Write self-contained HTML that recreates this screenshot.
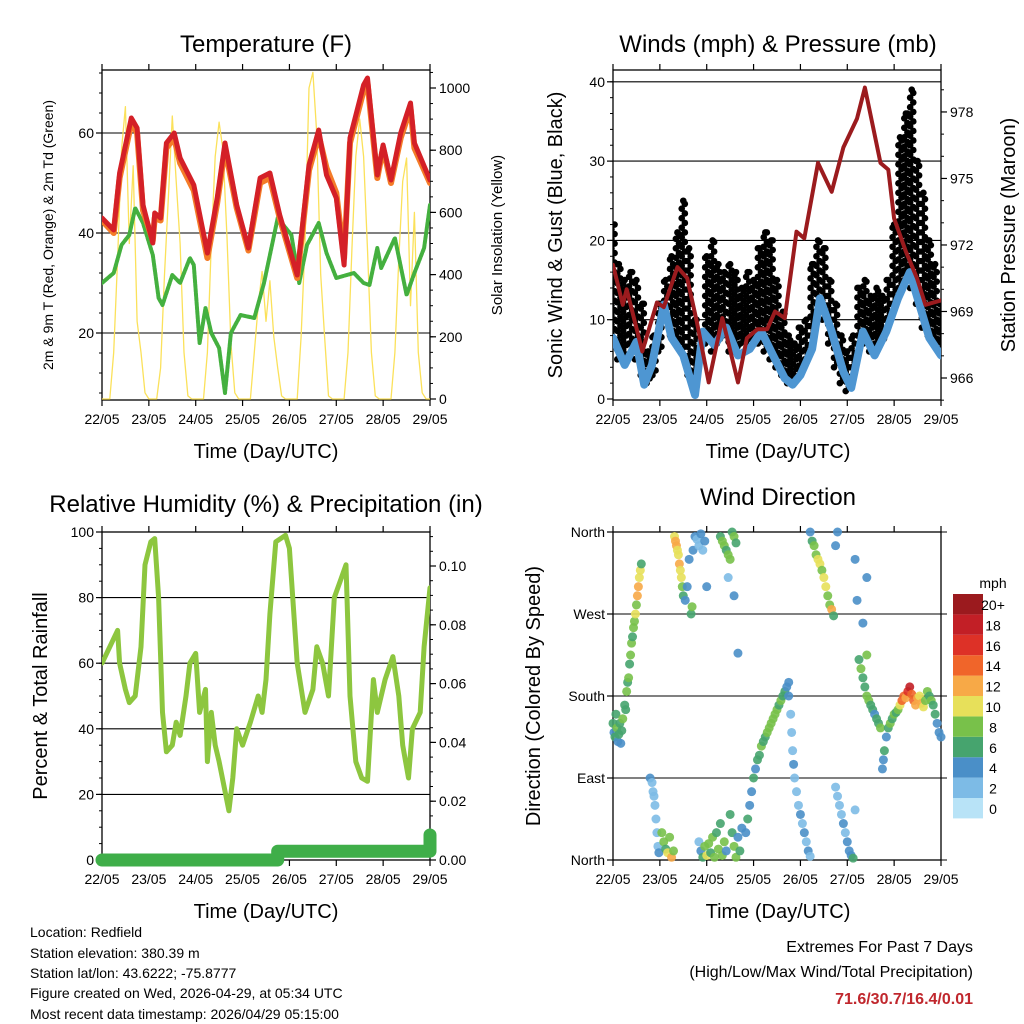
<!DOCTYPE html>
<html><head><meta charset="utf-8"><style>
html,body{margin:0;padding:0;background:#fff;}
svg{display:block;font-family:"Liberation Sans",sans-serif;}
</style></head><body>
<svg id="chart" width="1024" height="1024" viewBox="0 0 1024 1024" xmlns="http://www.w3.org/2000/svg">
<rect width="1024" height="1024" fill="#fff"/>
<text x="266" y="52" font-size="24" text-anchor="middle">Temperature (F)</text>
<text x="778" y="52" font-size="24" text-anchor="middle">Winds (mph) &amp; Pressure (mb)</text>
<text x="266" y="512" font-size="24" text-anchor="middle">Relative Humidity (%) &amp; Precipitation (in)</text>
<text x="778" y="505" font-size="24" text-anchor="middle">Wind Direction</text>
<text x="266" y="458" font-size="20" text-anchor="middle">Time (Day/UTC)</text>
<text x="778" y="458" font-size="20" text-anchor="middle">Time (Day/UTC)</text>
<text x="266" y="918" font-size="20" text-anchor="middle">Time (Day/UTC)</text>
<text x="778" y="918" font-size="20" text-anchor="middle">Time (Day/UTC)</text>
<text transform="translate(53,235) rotate(-90)" font-size="14" text-anchor="middle">2m &amp; 9m T (Red, Orange) &amp; 2m Td (Green)</text>
<text transform="translate(502,235) rotate(-90)" font-size="15" text-anchor="middle">Solar Insolation (Yellow)</text>
<text transform="translate(562,235) rotate(-90)" font-size="20" text-anchor="middle">Sonic Wind &amp; Gust (Blue, Black)</text>
<text transform="translate(1015,235) rotate(-90)" font-size="20" text-anchor="middle">Station Pressure (Maroon)</text>
<text transform="translate(47,696) rotate(-90)" font-size="20" text-anchor="middle">Percent &amp; Total Rainfall</text>
<text transform="translate(540,696) rotate(-90)" font-size="20" text-anchor="middle">Direction (Colored By Speed)</text>
<g font-size="14">
<text x="30" y="937">Location: Redfield</text>
<text x="30" y="958">Station elevation: 380.39 m</text>
<text x="30" y="978">Station lat/lon: 43.6222; -75.8777</text>
<text x="30" y="998">Figure created on Wed, 2026-04-29, at 05:34 UTC</text>
<text x="30" y="1019">Most recent data timestamp: 2026/04/29 05:15:00</text>
</g>
<g text-anchor="end">
<text x="973" y="952" font-size="16">Extremes For Past 7 Days</text>
<text x="973" y="977" font-size="16">(High/Low/Max Wind/Total Precipitation)</text>
<text x="973" y="1004" font-size="16" font-weight="bold" fill="#c0272d">71.6/30.7/16.4/0.01</text>
</g>
<text x="993" y="588" font-size="14" text-anchor="middle">mph</text>
</svg>
<script>
// ---------- data ----------
const dayLabels=["22/05","23/05","24/05","25/05","26/05","27/05","28/05","29/05"];
const tempHours=[0,6,9,15,18,21,26,27,30,33,37,40,47,54,59,63,69,75,81,86,91,100,106,111,115,120,124,127,134,136,141,144,148,153,158,160,168];
const tempRed=[43,40.6,52,63,61,45.6,38,44,43,58,60,55,49.6,36,47,58,45.6,37,51,52,43.6,31.6,53.6,60.6,51.6,47,33.6,59,69.6,71,51.6,57.6,50.6,60,66,58,50.6];
const tempOrange=[42.5,40,51,62,60,44.5,38.5,43,42.5,57,59,54,48.5,35,46,57,45,36.5,50,51,43,31,52.5,59.5,53,48,35,58,68.5,70,51,57,50,59,65,57,50];
const dewHours=[0,6,10,14,17,21,26,29,31,36,40,45,47,50,53,56,60,63,66,71,78,83,90,97,101,105,111,115,120,129,134,137,141,143,150,156,160,165,168];
const dewPoint=[30,32,37.6,39.6,45,42,35.6,27,25.6,31.6,30,35,33.6,18,25,20,17,8,20,23.6,23,30,43,39.6,30,37.6,42,36,31,32,30,29.6,37,33,39,27.6,32,37,45.6];
const solarHours=[0,2,4,6,8,10,12,14,16,18,20,22,24,26,28,30,32,34,36,38,40,42,44,46,48,50,52,54,56,58,60,62,64,66,68,70,72,74,76,78,80,82,84,86,88,90,92,94,96,98,100,102,104,106,108,110,112,114,116,118,120,122,124,126,128,130,132,134,136,138,140,142,144,146,148,150,152,154,156,158,160,162,164,166,168];
const solarVals=[0,0,0,150,450,800,940,500,750,250,150,20,0,0,0,100,400,650,910,700,500,150,10,0,0,0,0,150,500,780,890,800,520,180,20,0,0,0,0,150,300,410,250,380,200,100,10,0,0,0,0,200,500,1000,1050,850,400,200,10,0,0,0,0,150,480,780,900,780,480,150,10,0,0,0,0,150,450,700,775,300,600,150,20,0,0];
const windHours=[0,6,12,16,20,26,30,36,42,46,52,58,64,70,76,82,88,92,96,102,106,112,118,122,128,134,140,146,152,156,162,168];
const windSpeed=[7.7,4.3,7.2,1.8,4.3,11.9,7.7,5.5,0.5,8.5,6.8,9,5.5,6.3,8.5,5.5,2.6,1.8,3,6.3,12.7,8.5,3.4,1.4,8.5,5.5,8.5,12.7,16,12.7,7.7,5.5];
const gustHi=[22,17,15,16,15,12,6,8,12,15,18,21,25,19,10,5,18,20,17,16,17,16,14,16,15,19,21,20,15,11,8,7,9,10,17,20,19,15,12,8,6,8,14,15,13,14,13,15,22,33,36,39,30,26,20,17,12];
const gustLo=[7,5,5,7,5,3,2,3,6,10,8,7,6,3,1,6,7,6,7,8,6,6,7,7,8,7,6,5,4,3,2,2,3,5,8,12,10,7,4,2,1,4,8,7,6,7,7,9,12,14,15,14,12,9,8,7,6];
const presHours=[0,5,7,15,22.5,26,33,38,43,49,56,64,68.6,74,79,83,88,94,98,105,112,118,125,129,137,141,144,150,155.7,160,168];
const pressure=[971.1,969.3,970,967.2,969.4,969.2,971,970.5,968.5,965.8,968.7,965.8,967.8,968.2,968.2,969,968.7,972.6,972.3,975.7,974.4,976.4,977.7,979.1,975.7,975.4,973.2,971.7,970.5,969.3,969.5];
const rhHours=[0,4,8,9,12,14,17,20,22,25,27,29,31,33,36,38,40,43,45,48,50,53,54,56,58,60,63,65,67,69,72,76,80,82,84,86,89,94,96,100,104,108,110,113,116,119,122,125,127,130,133,136,139,141,145,149,152,154,157,159,163,165,168];
const rhVals=[60,65,70,60,52,48,50,65,90,97,98,80,45,33,35,42,38,50,60,63,45,52,30,45,35,30,21,15,25,40,35,42,50,45,55,75,97,99,95,60,45,52,65,60,50,80,85,90,50,30,25,24,55,45,55,62,50,35,25,40,45,65,83];
const precipHours=[0,90,90,168,168];
const precipVals=[0,0,0.003,0.003,0.0085];
const dirHours=[0,0.5,1,1.5,2,2.5,3,3.5,4,4.5,5,6,6.5,7,7.5,8,8.5,9,9.5,10,10.5,11,11.5,12,12.5,13,13.5,14,14.5,19,20,20.5,21,21.5,22,22.5,23,23.5,25,26,27,28,29,30,31,31.5,32,32.5,33,33.5,34,34.5,35,35.5,36,37,38,39,40,40.5,41,42,43,44,45,46,47,48,44,45,46,47,48,49,50,51,52,53,54,55,56,57,58,60,61,62,63,64,65,66,55,56,57,58,59,60,61,62,63,62,64,59,68,69,70,71,72,73,74,75,76,77,78,79,80,81,82,83,84,85,86,87,88,89,90,90,91,91.5,92,92.5,93,94,95,96,97,98,99,100,101,101,102,103,104,105,106,107,108,109,110,111,112,113,114,115,114,115,116,117,118,119,120,121,122,123,124,124,125,130,128,126,127,128,129,130,131,132,133,134,135,136,137,130,138,138.5,139,140,141,142,143,144,145,146,147,148,149,150,151,152,153,154,155,156,157,158,159,160,161,162,163,164,165,166,167,168];
const dirDeg=[150,140,135,160,145,130,138,150,128,142,155,170,165,185,195,200,215,225,238,245,255,262,270,280,290,300,310,318,325,90,85,75,70,60,45,30,15,8,30,20,12,8,25,3,10,355,350,345,340,335,325,318,310,300,290,285,300,330,270,278,340,355,352,345,358,340,350,300,20,10,3,15,5,18,8,25,3,30,12,40,5,20,10,50,30,15,3,25,10,35,355,350,345,340,335,330,360,355,348,290,227,310,30,45,60,75,90,100,110,115,125,130,135,140,145,150,155,160,165,170,175,180,185,190,195,180,160,140,120,105,90,75,60,50,40,30,20,10,4,360,350,345,335,330,325,318,310,300,290,280,275,268,345,360,80,70,60,50,40,30,20,10,5,2,55,330,285,310,260,220,210,200,190,180,175,170,165,160,155,150,145,225,100,110,120,135,145,150,155,160,162,165,170,175,180,178,185,190,182,175,170,178,180,172,168,175,185,180,175,170,160,150,140,135];
const dirSpeed=[5,4,6,5,7,4,6,5,4,6,7,6,5,7,6,7,6,7,8,6,7,8,9,8,11,12,10,9,5,3,2,2,1,2,2,2,1,3,7,8,6,9,7,11,8,10,11,12,9,10,12,10,9,8,6,4,4,3,6,7,4,3,2,1,3,2,4,3,2,3,5,8,9,7,6,8,7,6,7,6,8,7,4,5,6,8,7,4,6,4,6,7,8,6,7,7,5,8,6,4,4,2,4,5,4,4,5,4,6,5,7,6,6,7,8,7,8,7,8,6,7,6,5,4,3,3,2,2,1,3,2,2,1,3,2,4,2,3,2,4,5,7,8,10,9,8,10,9,7,8,12,6,4,4,2,2,1,2,3,2,4,3,4,5,2,4,3,3,4,6,7,5,6,8,7,5,6,4,5,6,7,7,4,4,5,4,6,7,6,7,6,8,10,13,14,12,15,17,14,13,12,11,10,12,9,8,7,6,7,5,6,4,4,4];
const speedBins=["0","2","4","6","8","10","12","14","16","18","20+"];
const binColors=["#b8e3f7","#7dbbe6","#4a8fc8","#46a46e","#78c14a","#e7e05a","#f7a947","#f0652a","#dd3127","#c21f26","#9b1a1e"];
const tempTicks=[20,40,60];
const solarTicks=[0,200,400,600,800,1000];
const windTicks=[0,10,20,30,40];
const presTicks=[966,969,972,975,978];
const rhTicks=[0,20,40,60,80,100];
const precipTicks=[0,0.02,0.04,0.06,0.08,0.10];
const dirTicks=[0,90,180,270,360];
const dirNames=["North","East","South","West","North"];

// ---------- helpers ----------
const NS='http://www.w3.org/2000/svg';
const svg=document.getElementById('chart');
function mk(tag,attrs,parent){const e=document.createElementNS(NS,tag);for(const k in attrs)e.setAttribute(k,attrs[k]);(parent||svg).appendChild(e);return e;}
const P1={x0:102,x1:430,y0:70,y1:400}, P2={x0:613,x1:941,y0:70,y1:400}, P3={x0:102,x1:430,y0:532,y1:860}, P4={x0:613,x1:941,y0:532,y1:860};
function xs(P,h){return P.x0+h/168*(P.x1-P.x0);}
const yT=v=>433-5*v, yS=w=>399-0.311*w, yW=v=>399-7.93*v, yP=p=>378-(p-966)*22.17, yR=v=>860-3.28*v, yPr=v=>860-2940*v, yD=d=>860-d*328/360;

function clip(P,id){const c=mk('clipPath',{id:id});mk('rect',{x:P.x0,y:P.y0,width:P.x1-P.x0,height:P.y1-P.y0},c);return 'url(#'+id+')';}
function frame(P,name){
  const g=mk('g',{});
  
  
  dayLabels.forEach((d,i)=>{const x=xs(P,i*24);
    mk('line',{x1:x,x2:x,y1:P.y1,y2:P.y1+6,stroke:'#000','stroke-width':1.2},g);
    mk('line',{x1:x,x2:x,y1:P.y0,y2:P.y0-6,stroke:'#000','stroke-width':1.2},g);
    const t=mk('text',{x:x,y:P.y1+24,'font-size':14,'text-anchor':'middle'},g);t.textContent=d;
    
    
  });
  return g;
}
function grid(P,ys,g){ys.forEach(y=>mk('line',{x1:P.x0,x2:P.x1,y1:y,y2:y,stroke:'#000','stroke-width':1.1},g));}
function leftTicks(P,vals,fy,labels,g,minorStep,lo,hi){
  if(minorStep){for(let v=lo;v<=hi+1e-9;v+=minorStep){const y=fy(v);if(y<P.y0-0.5||y>P.y1+0.5)continue;mk('line',{x1:P.x0-3,x2:P.x0,y1:y,y2:y,stroke:'#000'},g);}}
  vals.forEach((v,i)=>{const y=fy(v);mk('line',{x1:P.x0-6,x2:P.x0,y1:y,y2:y,stroke:'#000','stroke-width':1.2},g);
    const t=mk('text',{x:P.x0-8,y:y+5,'font-size':14,'text-anchor':'end'},g);t.textContent=labels[i];
    
    });
}
function rightTicks(P,vals,fy,labels,g,minorStep,lo,hi){
  if(minorStep){for(let v=lo;v<=hi+1e-9;v+=minorStep){const y=fy(v);if(y<P.y0-0.5||y>P.y1+0.5)continue;mk('line',{x1:P.x1,x2:P.x1+3,y1:y,y2:y,stroke:'#000'},g);}}
  vals.forEach((v,i)=>{const y=fy(v);mk('line',{x1:P.x1,x2:P.x1+6,y1:y,y2:y,stroke:'#000','stroke-width':1.2},g);
    const t=mk('text',{x:P.x1+9,y:y+5,'font-size':14,'text-anchor':'start'},g);t.textContent=labels[i];
    
    });
}
function border(P,g){mk('rect',{x:P.x0,y:P.y0,width:P.x1-P.x0,height:P.y1-P.y0,fill:'none',stroke:'#000','stroke-width':1.3},g);}
function line(P,hs,vs,fy,attrs,name,cp){
  const pts=hs.map((h,i)=>xs(P,h).toFixed(1)+','+fy(vs[i]).toFixed(1)).join(' ');
  const e=mk('polyline',Object.assign({points:pts,fill:'none','stroke-linejoin':'round','stroke-linecap':'round','clip-path':cp},attrs));
  
  
  return e;
}

// ---------- panel 1: temperature ----------
let g=frame(P1,'temperature');
const c1=clip(P1,'c1');
grid(P1,tempTicks.map(yT),g);
line(P1,solarHours,solarVals,yS,{stroke:'#fbe15a','stroke-width':1.3},'solar-insolation-line',c1);
line(P1,dewHours,dewPoint,yT,{stroke:'#44b03f','stroke-width':4,'stroke-dasharray':'3 1.5'},'dewpoint-line',c1);
line(P1,tempHours,tempOrange,yT,{stroke:'#f47c28','stroke-width':6},'temp-9m-line',c1);
line(P1,tempHours,tempRed,yT,{stroke:'#d42027','stroke-width':5},'temp-2m-line',c1);
leftTicks(P1,tempTicks,yT,tempTicks.map(String),g,4,8,72);
rightTicks(P1,solarTicks,yS,solarTicks.map(String),g,50,0,1050);
border(P1,g);

// ---------- panel 2: winds ----------
g=frame(P2,'winds');
const c2=clip(P2,'c2');
grid(P2,windTicks.slice(1).map(yW),g);
const gg=mk('g',{'clip-path':c2,fill:'#000'});


gustHi.forEach((hi,i)=>{const lo=gustLo[i];
  [-0.8,0.8].forEach((dh,k)=>{for(let v=lo+k*0.6;v<=hi;v+=1.2){const c=mk('circle',{cx:xs(P2,i*3+dh),cy:yW(v),r:3.3},gg);
    
    }});
  const top=mk('circle',{cx:xs(P2,i*3),cy:yW(hi),r:3.3},gg);
  
  
});
line(P2,windHours,windSpeed,yW,{stroke:'#4e96d2','stroke-width':8},'sonic-wind-line',c2);
line(P2,presHours,pressure,yP,{stroke:'#9b1b1e','stroke-width':4},'pressure-line',c2);
leftTicks(P2,windTicks,yW,windTicks.map(String),g,2,0,40);
rightTicks(P2,presTicks,yP,presTicks.map(String),g,1,965,979);
border(P2,g);

// ---------- panel 3: humidity ----------
g=frame(P3,'humidity');
const c3=clip(P3,'c3');
grid(P3,rhTicks.slice(1,5).map(yR),g);
line(P3,rhHours,rhVals,yR,{stroke:'#8dc63f','stroke-width':5},'relative-humidity-line',c3);
line(P3,precipHours,precipVals,yPr,{stroke:'#3fae49','stroke-width':13},'precipitation-line',null);
leftTicks(P3,rhTicks,yR,rhTicks.map(String),g,5,0,100);
rightTicks(P3,precipTicks,yPr,precipTicks.map(v=>v.toFixed(2)),g,0.005,0,0.11);
border(P3,g);

// ---------- panel 4: wind direction ----------
g=frame(P4,'wind-direction');
grid(P4,dirTicks.map(yD),g);
const gd=mk('g',{});


dirHours.forEach((h,i)=>{const b=Math.min(10,Math.floor(dirSpeed[i]/2+0.5));
  const c=mk('circle',{cx:xs(P4,h),cy:yD(dirDeg[i]),r:4.5,fill:binColors[b],'fill-opacity':0.9},gd);
  
  
});
leftTicks(P4,dirTicks,yD,dirNames,g,0,0,0);
dirTicks.forEach(v=>mk('line',{x1:P4.x1,x2:P4.x1+6,y1:yD(v),y2:yD(v),stroke:'#000'},g));
border(P4,g);

// colorbar
const cb=mk('g',{});


speedBins.forEach((lab,i)=>{const y=798-i*20.4;
  const r=mk('rect',{x:953,y:y,width:30,height:20.4,fill:binColors[i]},cb);
  
  
  const t=mk('text',{x:993,y:y+16,'font-size':14,'text-anchor':'middle'},cb);t.textContent=lab;
  
  
});
</script>
</body></html>
